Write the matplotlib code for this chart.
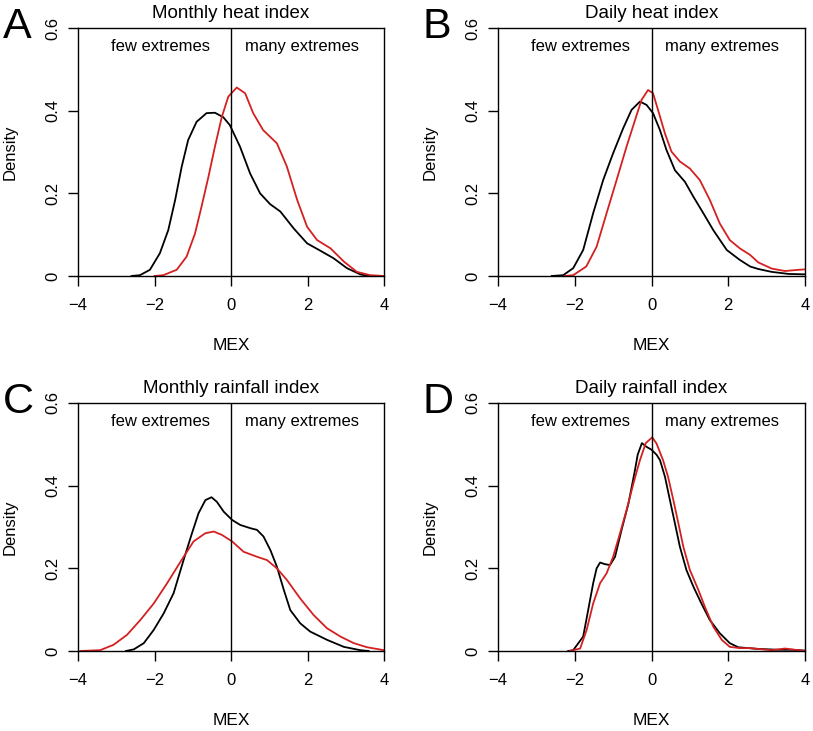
import matplotlib
matplotlib.use("Agg")
from matplotlib import pyplot as plt

plt.rcParams["font.family"] = ["Liberation Sans", "DejaVu Sans"]

# panel titles and letters
titles = ["Monthly heat index", "Daily heat index", "Monthly rainfall index", "Daily rainfall index"]
letters = ["A", "B", "C", "D"]

# A: monthly heat index
a_black_x = [-2.6, -2.38, -2.12, -1.86, -1.64, -1.46, -1.29, -1.12, -0.90, -0.64, -0.42, -0.20, -0.03, 0.235,
             0.50, 0.76, 1.02, 1.29, 1.64, 1.99, 2.34, 2.68, 3.03, 3.38, 3.6]
a_black_y = [0.0, 0.002, 0.015, 0.055, 0.111, 0.184, 0.264, 0.329, 0.373, 0.394, 0.395, 0.384, 0.365, 0.313,
             0.248, 0.2, 0.174, 0.156, 0.115, 0.079, 0.061, 0.043, 0.019, 0.004, 0.0]
a_red_x = [-2.0, -1.77, -1.42, -1.16, -0.94, -0.77, -0.59, -0.42, -0.24, -0.07, 0.15, 0.37, 0.58, 0.84, 1.2,
           1.46, 1.73, 1.99, 2.25, 2.6, 2.95, 3.29, 3.64, 4.0]
a_red_y = [0.0, 0.002, 0.015, 0.047, 0.103, 0.168, 0.24, 0.313, 0.385, 0.434, 0.456, 0.442, 0.394, 0.353, 0.321,
           0.265, 0.184, 0.119, 0.087, 0.067, 0.035, 0.010, 0.002, 0.0]

# B: daily heat index
b_black_x = [-2.6, -2.30, -2.04, -1.78, -1.52, -1.26, -1.0, -0.74, -0.52, -0.30, -0.13, 0.04, 0.22, 0.39,
             0.61, 0.87, 1.09, 1.35, 1.61, 1.96, 2.30, 2.57, 2.78, 3.13, 3.57, 4.0]
b_black_y = [0.0, 0.002, 0.019, 0.063, 0.152, 0.232, 0.297, 0.357, 0.402, 0.422, 0.414, 0.394, 0.353, 0.305,
             0.256, 0.228, 0.192, 0.152, 0.111, 0.063, 0.039, 0.023, 0.017, 0.010, 0.005, 0.004]
b_red_x = [-2.26, -2.04, -1.70, -1.43, -1.17, -0.91, -0.65, -0.43, -0.26, -0.09, 0.04, 0.17, 0.35, 0.52,
           0.74, 1.0, 1.26, 1.52, 1.78, 2.04, 2.30, 2.57, 2.78, 3.13, 3.48, 3.83, 4.0]
b_red_y = [0.0, 0.002, 0.023, 0.071, 0.152, 0.232, 0.313, 0.377, 0.426, 0.45, 0.442, 0.402, 0.345, 0.301,
           0.277, 0.26, 0.232, 0.184, 0.127, 0.087, 0.067, 0.051, 0.033, 0.018, 0.012, 0.015, 0.016]

# C: monthly rainfall index
c_black_x = [-2.75, -2.54, -2.28, -2.02, -1.76, -1.50, -1.24, -1.02, -0.85, -0.67, -0.51, -0.37, -0.19, 0.03,
             0.24, 0.51, 0.68, 0.85, 1.03, 1.20, 1.38, 1.55, 1.81, 2.07, 2.51, 2.95, 3.38, 3.6]
c_black_y = [0.0, 0.004, 0.019, 0.051, 0.091, 0.14, 0.22, 0.285, 0.333, 0.365, 0.372, 0.361, 0.337, 0.317,
             0.305, 0.297, 0.293, 0.277, 0.244, 0.204, 0.148, 0.099, 0.067, 0.047, 0.027, 0.010, 0.002, 0.0]
c_red_x = [-3.94, -3.42, -3.07, -2.72, -2.37, -2.02, -1.67, -1.32, -0.98, -0.67, -0.45, -0.24, 0.03, 0.33,
           0.68, 0.94, 1.20, 1.46, 1.81, 2.16, 2.51, 2.86, 3.21, 3.56, 4.0]
c_red_y = [0.0, 0.002, 0.015, 0.039, 0.075, 0.115, 0.164, 0.216, 0.265, 0.285, 0.289, 0.281, 0.265, 0.24,
           0.228, 0.22, 0.2, 0.172, 0.127, 0.087, 0.055, 0.035, 0.019, 0.009, 0.002]

# D: daily rainfall index
d_black_x = [-2.17, -2.04, -1.78, -1.65, -1.52, -1.43, -1.34, -1.21, -1.08, -0.95, -0.78, -0.60, -0.43, -0.36,
             -0.25, -0.13, 0.0, 0.13, 0.22, 0.35, 0.48, 0.61, 0.74, 0.91, 1.09, 1.30, 1.52, 1.78, 2.04, 2.26,
             2.78, 3.30, 3.65, 4.0]
d_black_y = [0.0, 0.002, 0.035, 0.099, 0.164, 0.2, 0.214, 0.21, 0.208, 0.228, 0.293, 0.357, 0.438, 0.475,
             0.503, 0.494, 0.487, 0.475, 0.462, 0.422, 0.365, 0.309, 0.252, 0.196, 0.156, 0.115, 0.075, 0.043,
             0.019, 0.009, 0.005, 0.003, 0.003, 0.001]
d_red_x = [-2.13, -1.86, -1.69, -1.52, -1.34, -1.17, -1.0, -0.82, -0.65, -0.47, -0.30, -0.15, 0.02, 0.13,
           0.30, 0.43, 0.57, 0.70, 0.83, 1.0, 1.22, 1.39, 1.61, 1.83, 2.04, 2.30, 2.57, 2.78, 3.13, 3.48,
           3.74, 4.0]
d_red_y = [0.0, 0.006, 0.051, 0.115, 0.164, 0.188, 0.228, 0.285, 0.341, 0.406, 0.462, 0.503, 0.517, 0.502,
           0.462, 0.422, 0.365, 0.309, 0.252, 0.196, 0.148, 0.107, 0.059, 0.027, 0.010, 0.007, 0.007, 0.005,
           0.002, 0.006, 0.003, 0.0]

black_series = [(a_black_x, a_black_y), (b_black_x, b_black_y), (c_black_x, c_black_y), (d_black_x, d_black_y)]
red_series = [(a_red_x, a_red_y), (b_red_x, b_red_y), (c_red_x, c_red_y), (d_red_x, d_red_y)]

x_ticks = [-4, -2, 0, 2, 4]
x_tick_labels = ["\u22124", "\u22122", "0", "2", "4"]
y_ticks = [0, 0.2, 0.4, 0.6]
y_tick_labels = ["0", "0.2", "0.4", "0.6"]

W, H = 813, 731
fig = plt.figure(figsize=(W / 100, H / 100), dpi=100)

# axes boxes in pixels: left, top, right, bottom
boxes = [(78, 28, 384, 276), (498, 28, 805, 276), (78, 403, 384, 651), (498, 403, 805, 651)]

for i in range(4):
    l, t, r, b = boxes[i]
    ax = fig.add_axes([l / W, 1 - b / H, (r - l) / W, (b - t) / H])

    ax.plot(black_series[i][0], black_series[i][1], color="black", lw=1.3)
    ax.plot(red_series[i][0], red_series[i][1], color="#d42020", lw=1.3)
    ax.plot([0, 0], [0, 0.6], color="black", lw=1.0)

    ax.set_xlim(-4, 4)
    ax.set_ylim(0, 0.6)
    ax.set_xticks(x_ticks)
    ax.set_xticklabels(x_tick_labels)
    ax.set_yticks(y_ticks)
    ax.set_yticklabels(y_tick_labels, rotation=90, va="center")
    ax.tick_params(direction="out", length=7, width=1, labelsize=12)
    ax.tick_params(axis="x", pad=9)
    ax.tick_params(axis="y", pad=6)
    for s in ax.spines.values():
        s.set_linewidth(1)

    ax.set_xlabel("MEX", fontsize=12.5, labelpad=18)
    ax.set_ylabel("Density", fontsize=12, labelpad=20)
    ax.set_title(titles[i], fontsize=13.5, pad=7)

    ax.text(-1.85, 0.556, "few extremes", ha="center", va="center", fontsize=12)
    ax.text(1.85, 0.556, "many extremes", ha="center", va="center", fontsize=12)

    # panel letter
    fig.text((l - 75) / W, 1 - (t - 1) / H, letters[i], fontsize=31, ha="left", va="center")

fig.savefig("out.png", dpi=100)
